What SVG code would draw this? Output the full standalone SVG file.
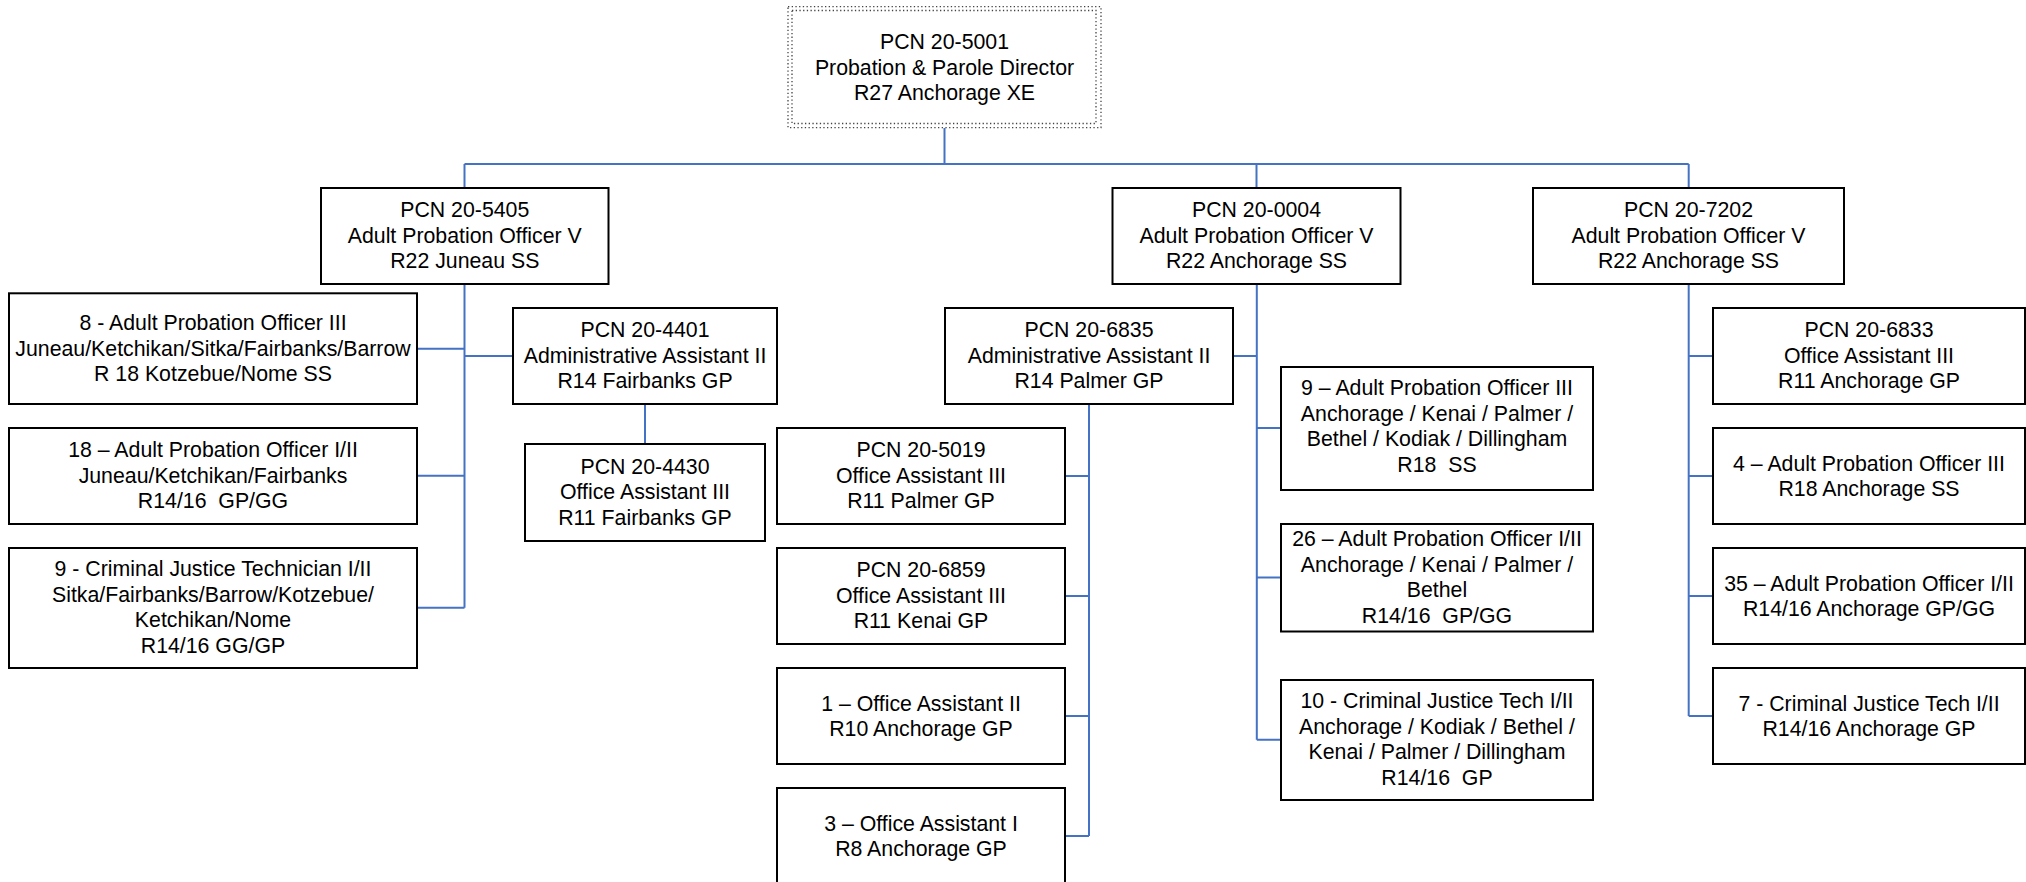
<svg xmlns="http://www.w3.org/2000/svg" width="2026" height="882" viewBox="0 0 2026 882">
<style>
.box{fill:#fff;stroke:#000;stroke-width:2}
.dot{fill:none;stroke:#444;stroke-width:1.3;stroke-dasharray:1.3 2.4}
.con{fill:none;stroke:#4472C4;stroke-width:2}
text{font-family:"Liberation Sans",Arial,sans-serif;font-size:21.3px;fill:#000;text-anchor:middle;white-space:pre}
</style>
<rect width="2026" height="882" fill="#fff"/>
<g id="connectors">
<path class="con" d="M944.5,128V164M464.5,164H1688.7M464.5,164V188M1256.5,164V188M1688.7,164V188"/>
<path class="con" d="M464.5,284V607.7M417,348.7H464.5M417,475.8H464.5M417,607.7H464.5M464.5,356H513M645,404V444"/>
<path class="con" d="M1256.8,284V739.8M1233,356H1256.8M1256.8,428H1281M1256.8,577.5H1281M1256.8,739.8H1281"/>
<path class="con" d="M1089,404V836M1065,476H1089M1065,596H1089M1065,716H1089M1065,836H1089"/>
<path class="con" d="M1688.7,284V716M1688.7,356H1713M1688.7,476H1713M1688.7,596H1713M1688.7,716H1713"/>
</g>
<g id="n5001">
<rect class="dot" x="788" y="6.7" width="313" height="121"/>
<rect class="dot" x="792" y="10.5" width="304" height="113"/>
<text x="944.5" y="49">PCN 20-5001</text>
<text x="944.5" y="74.5">Probation &amp; Parole Director</text>
<text x="944.5" y="100">R27 Anchorage XE</text>
</g>
<g id="n5405">
<rect class="box" x="321" y="188" width="287.5" height="96"/>
<text x="464.75" y="217">PCN 20-5405</text>
<text x="464.75" y="242.5">Adult Probation Officer V</text>
<text x="464.75" y="268">R22 Juneau SS</text>
</g>
<g id="n0004">
<rect class="box" x="1112.5" y="188" width="288" height="96"/>
<text x="1256.5" y="217">PCN 20-0004</text>
<text x="1256.5" y="242.5">Adult Probation Officer V</text>
<text x="1256.5" y="268">R22 Anchorage SS</text>
</g>
<g id="n7202">
<rect class="box" x="1533" y="188" width="311" height="96"/>
<text x="1688.5" y="217">PCN 20-7202</text>
<text x="1688.5" y="242.5">Adult Probation Officer V</text>
<text x="1688.5" y="268">R22 Anchorage SS</text>
</g>
<g id="apo3_juneau">
<rect class="box" x="9" y="293.3" width="408" height="110.7"/>
<text x="213" y="330">8 - Adult Probation Officer III</text>
<text x="213" y="355.5">Juneau/Ketchikan/Sitka/Fairbanks/Barrow</text>
<text x="213" y="381">R 18 Kotzebue/Nome SS</text>
</g>
<g id="apo12_juneau">
<rect class="box" x="9" y="428" width="408" height="96"/>
<text x="213" y="457">18 – Adult Probation Officer I/II</text>
<text x="213" y="482.5">Juneau/Ketchikan/Fairbanks</text>
<text x="213" y="508">R14/16  GP/GG</text>
</g>
<g id="cjt_juneau">
<rect class="box" x="9" y="548" width="408" height="120"/>
<text x="213" y="576">9 - Criminal Justice Technician I/II</text>
<text x="213" y="601.5">Sitka/Fairbanks/Barrow/Kotzebue/</text>
<text x="213" y="627">Ketchikan/Nome</text>
<text x="213" y="652.5">R14/16 GG/GP</text>
</g>
<g id="n4401">
<rect class="box" x="513" y="308" width="264" height="96"/>
<text x="645" y="337">PCN 20-4401</text>
<text x="645" y="362.5">Administrative Assistant II</text>
<text x="645" y="388">R14 Fairbanks GP</text>
</g>
<g id="n4430">
<rect class="box" x="525" y="444" width="240" height="97"/>
<text x="645" y="473.5">PCN 20-4430</text>
<text x="645" y="499">Office Assistant III</text>
<text x="645" y="524.5">R11 Fairbanks GP</text>
</g>
<g id="n6835">
<rect class="box" x="945" y="308" width="288" height="96"/>
<text x="1089" y="337">PCN 20-6835</text>
<text x="1089" y="362.5">Administrative Assistant II</text>
<text x="1089" y="388">R14 Palmer GP</text>
</g>
<g id="n5019">
<rect class="box" x="777" y="428" width="288" height="96"/>
<text x="921" y="457">PCN 20-5019</text>
<text x="921" y="482.5">Office Assistant III</text>
<text x="921" y="508">R11 Palmer GP</text>
</g>
<g id="n6859">
<rect class="box" x="777" y="548" width="288" height="96"/>
<text x="921" y="577">PCN 20-6859</text>
<text x="921" y="602.5">Office Assistant III</text>
<text x="921" y="628">R11 Kenai GP</text>
</g>
<g id="oa2_anchorage">
<rect class="box" x="777" y="668" width="288" height="96"/>
<text x="921" y="710.5">1 – Office Assistant II</text>
<text x="921" y="736">R10 Anchorage GP</text>
</g>
<g id="oa1_anchorage">
<rect class="box" x="777" y="788" width="288" height="96"/>
<text x="921" y="830.5">3 – Office Assistant I</text>
<text x="921" y="856">R8 Anchorage GP</text>
</g>
<g id="apo3_anchorage">
<rect class="box" x="1281" y="367" width="312" height="123"/>
<text x="1437" y="395">9 – Adult Probation Officer III</text>
<text x="1437" y="420.5">Anchorage / Kenai / Palmer /</text>
<text x="1437" y="446">Bethel / Kodiak / Dillingham</text>
<text x="1437" y="471.5">R18  SS</text>
</g>
<g id="apo12_anchorage">
<rect class="box" x="1281" y="524" width="312" height="107.5"/>
<text x="1437" y="546">26 – Adult Probation Officer I/II</text>
<text x="1437" y="571.5">Anchorage / Kenai / Palmer /</text>
<text x="1437" y="597">Bethel</text>
<text x="1437" y="622.5">R14/16  GP/GG</text>
</g>
<g id="cjt_anchorage">
<rect class="box" x="1281" y="680" width="312" height="120"/>
<text x="1437" y="708">10 - Criminal Justice Tech I/II</text>
<text x="1437" y="733.5">Anchorage / Kodiak / Bethel /</text>
<text x="1437" y="759">Kenai / Palmer / Dillingham</text>
<text x="1437" y="784.5">R14/16  GP</text>
</g>
<g id="n6833">
<rect class="box" x="1713" y="308" width="312" height="96"/>
<text x="1869" y="337">PCN 20-6833</text>
<text x="1869" y="362.5">Office Assistant III</text>
<text x="1869" y="388">R11 Anchorage GP</text>
</g>
<g id="apo3_7202">
<rect class="box" x="1713" y="428" width="312" height="96"/>
<text x="1869" y="470.5">4 – Adult Probation Officer III</text>
<text x="1869" y="496">R18 Anchorage SS</text>
</g>
<g id="apo12_7202">
<rect class="box" x="1713" y="548" width="312" height="96"/>
<text x="1869" y="590.5">35 – Adult Probation Officer I/II</text>
<text x="1869" y="616">R14/16 Anchorage GP/GG</text>
</g>
<g id="cjt_7202">
<rect class="box" x="1713" y="668" width="312" height="96"/>
<text x="1869" y="710.5">7 - Criminal Justice Tech I/II</text>
<text x="1869" y="736">R14/16 Anchorage GP</text>
</g>
</svg>
